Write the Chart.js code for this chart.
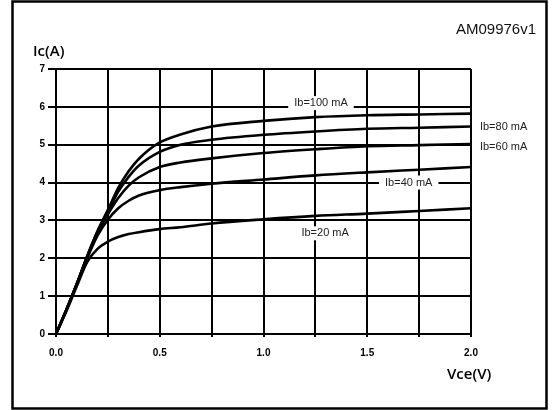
<!DOCTYPE html>
<html>
<head>
<meta charset="utf-8">
<script src="https://cdn.jsdelivr.net/npm/chart.js@4/dist/chart.umd.min.js"></script>
<style>
  html, body { margin: 0; padding: 0; background: #fff; }
  canvas { display: block; }
</style>
</head>
<body>
<canvas id="chart" width="552" height="410"></canvas>
<script>
// Vce (V) sample points, shared by all curves
const vce = [0, 0.05, 0.1, 0.15, 0.2, 0.25, 0.3, 0.35, 0.4, 0.5, 0.6, 0.75, 1.0, 1.25, 1.5, 1.75, 2.0];

// Ic (A) per base current
const ib100 = [0, 0.64, 1.32, 2.05, 2.72, 3.28, 3.86, 4.3, 4.63, 5.06, 5.27, 5.48, 5.63, 5.73, 5.78, 5.8, 5.82];
const ib80 = [0, 0.64, 1.32, 2.05, 2.7, 3.23, 3.76, 4.15, 4.45, 4.81, 5.0, 5.13, 5.26, 5.35, 5.42, 5.45, 5.48];
const ib60 = [0, 0.64, 1.32, 2.04, 2.67, 3.16, 3.59, 3.92, 4.14, 4.41, 4.53, 4.64, 4.78, 4.88, 4.96, 4.99, 5.02];
const ib40 = [0, 0.64, 1.31, 2.0, 2.6, 3.02, 3.32, 3.52, 3.66, 3.8, 3.88, 3.97, 4.08, 4.19, 4.27, 4.34, 4.41];
const ib20 = [0, 0.6, 1.26, 1.9, 2.25, 2.44, 2.56, 2.64, 2.69, 2.77, 2.82, 2.92, 3.03, 3.12, 3.18, 3.25, 3.32];

// curve labels, placed in data units
const labelText = ['Ib=100 mA', 'Ib=80 mA', 'Ib=60 mA', 'Ib=40 mA', 'Ib=20 mA'];
const labelX = [1.277, 2.043, 2.043, 1.70, 1.297];
const labelY = [6.1, 5.46, 4.95, 4.0, 2.66];

const xTitle = 'Vce(V)';
const yTitle = 'Ic(A)';
const codeText = 'AM09976v1';

function toPoints(ys) {
    return vce.map((v, i) => ({ x: v, y: ys[i] }));
}

function curve(label, ys) {
    return {
        label: label,
        data: toPoints(ys),
        borderColor: '#000',
        borderWidth: 2.6,
        pointRadius: 0,
        fill: false,
        cubicInterpolationMode: 'monotone'
    };
}

const tickFont = { family: "'Liberation Sans', Arial, sans-serif", size: 10, weight: 'bold' };

const decorations = {
    id: 'decorations',
    beforeDraw(chart) {
        const ctx = chart.ctx;
        ctx.save();
        ctx.fillStyle = '#fff';
        ctx.fillRect(0, 0, chart.width, chart.height);
        ctx.restore();
    },
    afterDatasetsDraw(chart) {
        const ctx = chart.ctx;
        const xs = chart.scales.x;
        const ys = chart.scales.y;
        ctx.save();
        ctx.font = "11px 'Liberation Sans', Arial, sans-serif";
        ctx.textBaseline = 'middle';
        labelText.forEach((t, i) => {
            const px = xs.getPixelForValue(labelX[i]);
            const py = ys.getPixelForValue(labelY[i]);
            const w = ctx.measureText(t).width;
            const outside = labelX[i] > xs.max;
            if (!outside) {
                ctx.fillStyle = '#fff';
                ctx.fillRect(px - w / 2 - 6, py - 7, w + 12, 14);
                ctx.textAlign = 'center';
            } else {
                ctx.textAlign = 'left';
            }
            ctx.fillStyle = '#222';
            ctx.fillText(t, px, py);
        });

        // axis titles
        const ca = chart.chartArea;
        ctx.fillStyle = '#000';
        ctx.font = "600 15px 'Open Sans', sans-serif";
        ctx.textAlign = 'left';
        ctx.fillText(yTitle, ca.left - 23, ca.top - 17);
        ctx.fillText(xTitle, ca.right - 24, ca.bottom + 41);

        ctx.font = "15px 'Liberation Sans', Arial, sans-serif";
        ctx.textAlign = 'right';
        ctx.fillStyle = '#111';
        ctx.fillText(codeText, 536, 30);
        ctx.restore();
    },
    afterDraw(chart) {
        const ctx = chart.ctx;
        ctx.save();
        ctx.strokeStyle = '#000';
        ctx.lineWidth = 2.5;
        ctx.strokeRect(12.5, 1.5, 534, 407);
        ctx.restore();
    }
};

new Chart(document.getElementById('chart'), {
    type: 'line',
    data: {
        datasets: [
            curve('Ib=100 mA', ib100),
            curve('Ib=80 mA', ib80),
            curve('Ib=60 mA', ib60),
            curve('Ib=40 mA', ib40),
            curve('Ib=20 mA', ib20)
        ]
    },
    options: {
        responsive: false,
        devicePixelRatio: 1,
        animation: false,
        layout: { padding: { left: 0, top: 69, right: 81, bottom: 0 } },
        plugins: {
            legend: { display: false },
            tooltip: { enabled: false }
        },
        scales: {
            x: {
                type: 'linear',
                min: 0,
                max: 2,
                afterFit(s) { s.height = 76; },
                grid: { color: '#000', lineWidth: 2, tickLength: 3, tickColor: '#000' },
                border: { color: '#000', width: 2 },
                ticks: {
                    stepSize: 0.25,
                    autoSkip: false,
                    maxRotation: 0,
                    color: '#000',
                    padding: 10,
                    font: tickFont,
                    callback: v => (Math.round(v * 4) % 2 === 0 ? v.toFixed(1) : '')
                }
            },
            y: {
                min: 0,
                max: 7,
                afterFit(s) { s.width = 56; },
                grid: { color: '#000', lineWidth: 2, tickLength: 8, tickColor: '#000' },
                border: { color: '#000', width: 2 },
                ticks: {
                    stepSize: 1,
                    color: '#000',
                    padding: 3,
                    font: tickFont
                }
            }
        }
    },
    plugins: [decorations]
});
</script>
</body>
</html>
